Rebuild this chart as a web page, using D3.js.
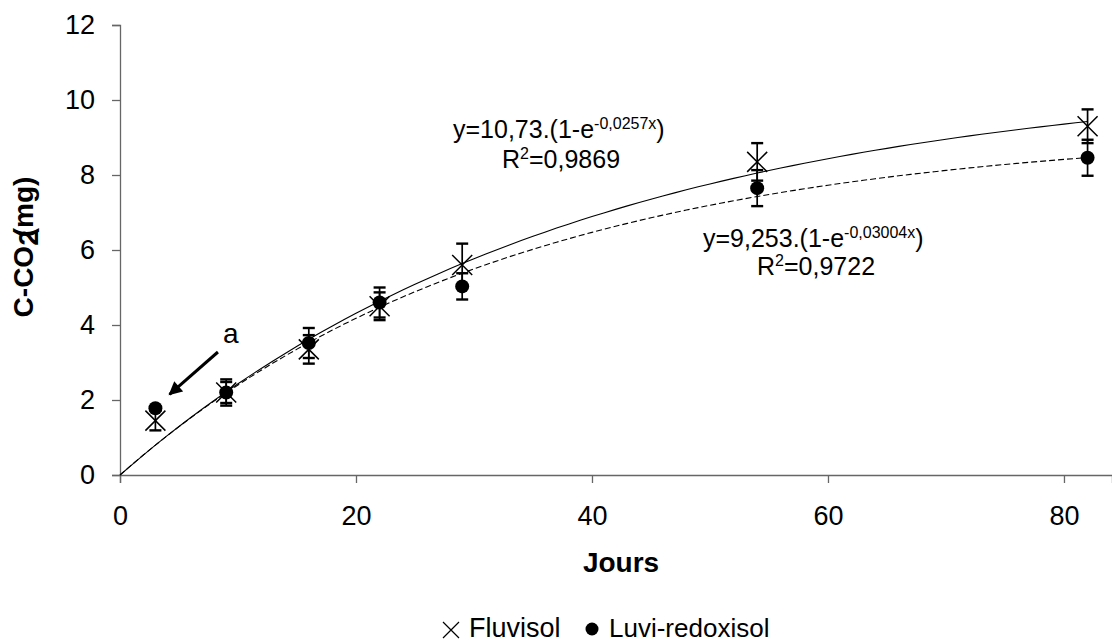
<!DOCTYPE html>
<html>
<head>
<meta charset="utf-8">
<script src="https://cdn.jsdelivr.net/npm/d3@7/dist/d3.min.js"></script>
<style>
  html, body { margin: 0; padding: 0; background: #fff; }
  svg { display: block; font-family: "Liberation Sans", Arial, sans-serif; }
</style>
</head>
<body>
<svg id="chart" width="1112" height="642"></svg>
<script>
// ---- data ----
const days = [3, 9, 16, 22, 29, 54, 82];
const fluvisol = [1.45, 2.2, 3.35, 4.5, 5.6, 8.35, 9.3];
const fluvisolErr = [0.26, 0.35, 0.38, 0.37, 0.57, 0.5, 0.45];
const luvi = [1.78, 2.2, 3.52, 4.6, 5.03, 7.65, 8.46];
const luviErr = [0.05, 0.28, 0.4, 0.4, 0.35, 0.48, 0.48];
const seriesNames = ["Fluvisol", "Luvi-redoxisol"];
// fitted models shown on the chart: y = a.(1 - e^(-k x))
const fitA = [10.73, 9.253];
const fitK = [0.0257, 0.03004];
const fitR2 = ["0,9869", "0,9722"];
const fitALabel = ["10,73", "9,253"];
const fitKLabel = ["-0,0257x", "-0,03004x"];
const xTicks = [0, 20, 40, 60, 80];
const yTicks = [0, 2, 4, 6, 8, 10, 12];

const svg = d3.select("#chart");
const x = d3.scaleLinear().domain([0, 84.07]).range([120, 1112]);
const y = d3.scaleLinear().domain([0, 12]).range([475, 25]);

// axes
const axisColor = "#666";
const gx = svg.append("g").attr("transform", `translate(0,${y(0)})`)
  .call(d3.axisBottom(x).tickValues(xTicks).tickSize(8).tickPadding(23).tickFormat(d3.format("d")));
const gy = svg.append("g").attr("transform", `translate(${x(0)},0)`)
  .call(d3.axisLeft(y).tickValues(yTicks).tickSize(8).tickPadding(17).tickFormat(d3.format("d")));
[gx, gy].forEach(g => {
  g.selectAll("path.domain").attr("stroke", axisColor).attr("stroke-width", 1.3);
  g.selectAll(".tick line").attr("stroke", axisColor).attr("stroke-width", 1.3);
  g.selectAll(".tick text").attr("fill", "#000").style("font-size", "27px")
    .style("font-family", '"Liberation Sans", Arial, sans-serif');
});

// fitted curves
const samples = d3.range(0, 82.0001, 1);
const line = d3.line().x(d => x(d[0])).y(d => y(d[1]));
fitA.forEach((a, i) => {
  const pts = samples.map(t => [t, a * (1 - Math.exp(-fitK[i] * t))]);
  svg.append("path").attr("d", line(pts)).attr("fill", "none")
    .attr("stroke", "#000").attr("stroke-width", 1.1)
    .attr("stroke-dasharray", i === 1 ? "6,3" : null);
});

// error bars
function errorBars(vals, errs) {
  const g = svg.append("g").attr("stroke", "#000");
  days.forEach((d, i) => {
    const cx = x(d), lo = y(vals[i] - errs[i]), hi = y(vals[i] + errs[i]);
    g.append("line").attr("x1", cx).attr("x2", cx).attr("y1", lo).attr("y2", hi).attr("stroke-width", 1.7);
    g.append("line").attr("x1", cx - 6).attr("x2", cx + 6).attr("y1", lo).attr("y2", lo).attr("stroke-width", 2.4);
    g.append("line").attr("x1", cx - 6).attr("x2", cx + 6).attr("y1", hi).attr("y2", hi).attr("stroke-width", 2.4);
  });
}
errorBars(fluvisol, fluvisolErr);
errorBars(luvi, luviErr);

// markers
const s = 10;
svg.append("g").selectAll("path").data(days).join("path")
  .attr("d", (d, i) => {
    const cx = x(d), cy = y(fluvisol[i]);
    return `M${cx - s},${cy - s}L${cx + s},${cy + s}M${cx - s},${cy + s}L${cx + s},${cy - s}`;
  })
  .attr("stroke", "#000").attr("stroke-width", 1.5).attr("fill", "none");
svg.append("g").selectAll("circle").data(days).join("circle")
  .attr("cx", d => x(d)).attr("cy", (d, i) => y(luvi[i])).attr("r", 7).attr("fill", "#000");

// equations
function equation(i, ex, ey, rx, ry) {
  const t = svg.append("text").attr("x", ex).attr("y", ey).style("font-size", "25px").attr("fill", "#000");
  t.append("tspan").text(`y=${fitALabel[i]}.(1-e`);
  t.append("tspan").attr("dy", -9).style("font-size", "16px").text(fitKLabel[i]);
  t.append("tspan").attr("dy", 9).text(")");
  const r = svg.append("text").attr("x", rx).attr("y", ry).style("font-size", "25px").attr("fill", "#000");
  r.append("tspan").text("R");
  r.append("tspan").attr("dy", -9).style("font-size", "16px").text("2");
  r.append("tspan").attr("dy", 9).text(`=${fitR2[i]}`);
}
equation(0, 453, 138, 502, 168);
equation(1, 703, 247, 757, 275);

// arrow annotation "a"
svg.append("defs").append("marker").attr("id", "ah")
  .attr("viewBox", "0 0 10 10").attr("refX", 9).attr("refY", 5)
  .attr("markerWidth", 5).attr("markerHeight", 4.5).attr("markerUnits", "strokeWidth")
  .attr("orient", "auto")
  .append("path").attr("d", "M0,0L10,5L0,10Z").attr("fill", "#000");
svg.append("line").attr("x1", x(8.3)).attr("y1", y(3.28)).attr("x2", x(4.2)).attr("y2", y(2.15))
  .attr("stroke", "#000").attr("stroke-width", 3).attr("marker-end", "url(#ah)");
svg.append("text").attr("x", 223).attr("y", 343).style("font-size", "28px").text("a");

// axis titles
svg.append("text").attr("x", 621).attr("y", 572).attr("text-anchor", "middle")
  .style("font-size", "28px").style("font-weight", "bold").text("Jours");
const yl = svg.append("text").attr("transform", "translate(33,247) rotate(-90)")
  .attr("text-anchor", "middle").style("font-size", "28px").style("font-weight", "bold");
yl.append("tspan").text("C-CO");
yl.append("tspan").attr("dy", 5).text("2");
yl.append("tspan").attr("dy", -5).attr("dx", -7).text("(mg)");

// legend
const lg = svg.append("g");
lg.append("path").attr("d", "M443,622L459,638M443,638L459,622").attr("stroke", "#000").attr("stroke-width", 1.2);
lg.append("text").attr("x", 469).attr("y", 637).style("font-size", "27px").text(seriesNames[0]);
lg.append("circle").attr("cx", 592).attr("cy", 629).attr("r", 6.5).attr("fill", "#000");
lg.append("text").attr("x", 609).attr("y", 637).style("font-size", "26px").text(seriesNames[1]);
</script>
</body>
</html>
